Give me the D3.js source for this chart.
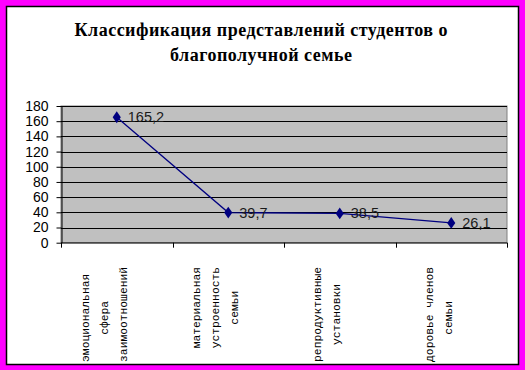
<!DOCTYPE html>
<html>
<head>
<meta charset="utf-8">
<script src="https://cdn.jsdelivr.net/npm/d3@7"></script>
<style>
body { margin: 0; background: #ff00ff; }
svg { display: block; }
</style>
</head>
<body>
<div id="chart"></div>
<script>
var width = 525,
	height = 370;

// data
var titleLines = ['Классификация представлений студентов о', 'благополучной семье'];
var categories = ['эмоциональная сфера взаимоотношений', 'материальная устроенность семьи',
	'репродуктивные установки', 'здоровье членов семьи'];
var categoryLines = [
	['эмоциональная', 'сфера', 'взаимоотношений'],
	['материальная', 'устроенность', 'семьи'],
	['репродуктивные', 'установки'],
	['здоровье членов', 'семьи']
];
var values = [165.2, 39.7, 38.5, 26.1];
var valueLabels = ['165,2', '39,7', '38,5', '26,1'];
var yTicks = [0, 20, 40, 60, 80, 100, 120, 140, 160, 180];

var svg = d3.select('#chart').append('svg')
	.attr('width', width)
	.attr('height', height);

// magenta frame + white sheet
svg.append('rect')
	.attr('width', width).attr('height', height)
	.style('fill', '#ff00ff');
svg.append('rect')
	.attr('x', 6.5).attr('y', 6.5)
	.attr('width', 512).attr('height', 358)
	.style('fill', '#ffffff')
	.style('stroke', '#000000')
	.style('stroke-width', 1.5);

// title (widths stretched like the original rendering)
var titleWidths = [373, 182];
svg.append('g')
	.selectAll('text')
	.data(titleLines)
	.enter()
	.append('text')
	.attr('x', 261)
	.attr('y', function(d, i) { return 36 + i * 25; })
	.attr('text-anchor', 'middle')
	.attr('textLength', function(d, i) { return titleWidths[i]; })
	.attr('lengthAdjust', 'spacing')
	.style('font-family', '"Liberation Serif", "Times New Roman", serif')
	.style('font-weight', 'bold')
	.style('font-size', '18px')
	.text(function(d) { return d; });

var plot = { left: 61, right: 507, top: 106, bottom: 242.7 };

var x = d3.scaleBand()
	.domain(categories)
	.range([plot.left, plot.right]);

var y = d3.scaleLinear()
	.domain([0, 180])
	.range([plot.bottom, plot.top]);

// plot background
svg.append('rect')
	.attr('x', plot.left).attr('y', plot.top)
	.attr('width', plot.right - plot.left)
	.attr('height', plot.bottom - plot.top)
	.style('fill', '#c0c0c0')
	.style('stroke', '#808080')
	.style('stroke-width', 1);

// gridlines
svg.append('g')
	.selectAll('line')
	.data(yTicks.filter(function(d) { return d > 0; }))
	.enter()
	.append('line')
	.attr('x1', plot.left).attr('x2', plot.right)
	.attr('y1', function(d) { return Math.round(y(d)) + 0.5; })
	.attr('y2', function(d) { return Math.round(y(d)) + 0.5; })
	.style('stroke', '#000000')
	.style('stroke-width', 1);

// y axis
var yAxis = d3.axisLeft(y)
	.tickValues(yTicks)
	.tickSize(5)
	.tickSizeOuter(0)
	.tickPadding(8);

var yg = svg.append('g')
	.attr('transform', 'translate(' + (plot.left + 0.5) + ',0)')
	.call(yAxis);
yg.selectAll('text')
	.style('font-family', 'Arial, "Liberation Sans", sans-serif')
	.style('font-size', '14px')
	.style('fill', '#000');
yg.selectAll('line, path').style('stroke', '#000');

// x axis: ticks on band edges
var xEdges = categories.map(function(c) { return x(c); }).concat([plot.right]);
var xg = svg.append('g');
xg.append('line')
	.attr('x1', plot.left).attr('x2', plot.right)
	.attr('y1', plot.bottom + 0.3).attr('y2', plot.bottom + 0.3)
	.style('stroke', '#000');
xg.selectAll('line.tick')
	.data(xEdges)
	.enter()
	.append('line')
	.classed('tick', true)
	.attr('x1', function(d) { return Math.round(d) + 0.5; })
	.attr('x2', function(d) { return Math.round(d) + 0.5; })
	.attr('y1', plot.bottom)
	.attr('y2', plot.bottom + 5)
	.style('stroke', '#000');

// category labels, rotated, clipped by the sheet
svg.append('clipPath')
	.attr('id', 'sheet')
	.append('rect')
	.attr('x', 7).attr('y', 7).attr('width', 511).attr('height', 355);

var lineGap = 19;
var labels = svg.append('g')
	.attr('clip-path', 'url(#sheet)')
	.selectAll('g')
	.data(categoryLines)
	.enter()
	.append('g');

labels.each(function(lines, i) {
	var g = d3.select(this);
	var cx = x(categories[i]) + x.bandwidth() / 2 - 13;
	var texts = g.selectAll('text')
		.data(lines)
		.enter()
		.append('text')
		.style('font-family', '"Liberation Mono", "Courier New", monospace')
		.style('font-size', '11.3px')
		.style('fill', '#000')
		.attr('text-anchor', 'middle')
		.text(function(d) { return d; });
	var maxLen = 0;
	texts.each(function() { maxLen = Math.max(maxLen, this.getComputedTextLength()); });
	var cy = 267 + maxLen / 2;
	texts.attr('transform', function(d, j) {
		var lx = cx + (j - (lines.length - 1) / 2) * lineGap + 4;
		return 'translate(' + lx + ',' + cy + ') rotate(-90)';
	});
});

// series line
var line = d3.line()
	.x(function(d, i) { return x(categories[i]) + x.bandwidth() / 2; })
	.y(function(d) { return y(d); });

svg.append('path')
	.datum(values)
	.attr('d', line)
	.style('fill', 'none')
	.style('stroke', '#000080')
	.style('stroke-width', 1.3);

svg.append('g')
	.selectAll('path')
	.data(values)
	.enter()
	.append('path')
	.attr('d', d3.symbol().type(d3.symbolDiamond).size(40))
	.attr('transform', function(d, i) {
		return 'translate(' + (x(categories[i]) + x.bandwidth() / 2) + ',' + y(d) + ') scale(1.2,1)';
	})
	.style('fill', '#000080');

// data labels
svg.append('g')
	.selectAll('text')
	.data(values)
	.enter()
	.append('text')
	.attr('x', function(d, i) { return x(categories[i]) + x.bandwidth() / 2 + 11; })
	.attr('y', function(d) { return y(d) + 5; })
	.style('font-family', 'Arial, "Liberation Sans", sans-serif')
	.style('font-size', '14.5px')
	.style('fill', '#1a1a1a')
	.text(function(d, i) { return valueLabels[i]; });
</script>
</body>
</html>
